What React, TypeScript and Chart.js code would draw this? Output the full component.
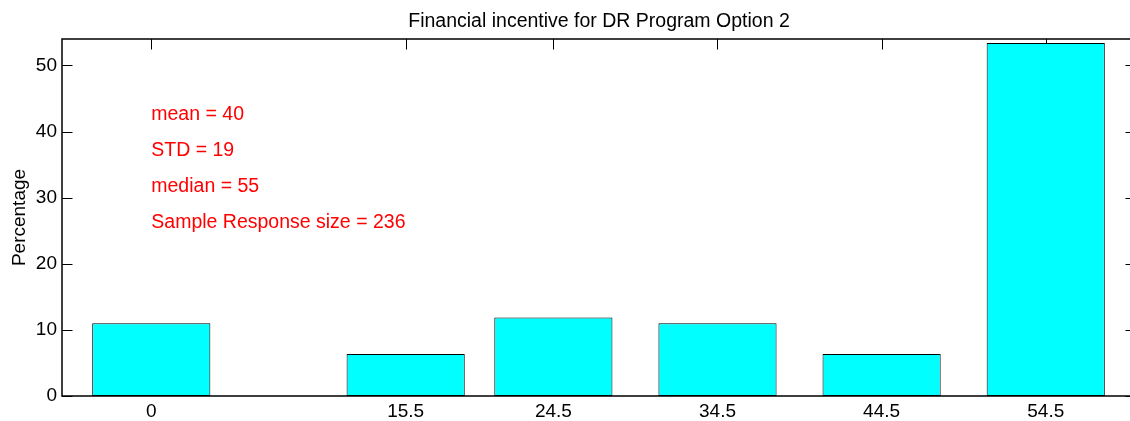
import React, { useEffect, useRef } from "react";
import { Chart, registerables } from "chart.js";

Chart.register(...registerables);

const titleText = "Financial incentive for DR Program Option 2";
const yAxisLabel = "Percentage";
const binCenters = [0, 15.5, 24.5, 34.5, 44.5, 54.5];
const percentages = [11.02, 6.36, 11.86, 11.02, 6.36, 53.39];
const yTicks = [0, 10, 20, 30, 40, 50];
const xRange = [-5.44, 60];
const yRange = [0, 54];
const statLabels = ["mean = 40", "STD = 19", "median = 55", "Sample Response size = 236"];
const statX = 0;
const statY = [43.2, 37.8, 32.4, 27];

const FONT = '"Liberation Sans", Arial, Helvetica, sans-serif';

const matlabAxes = {
  id: "matlabAxes",
  beforeDatasetsDraw(chart: any) {
    const { ctx, chartArea: a, scales } = chart;
    const xs = scales.x;
    const ys = scales.y;
    const tl = 10.5;
    ctx.save();
    ctx.strokeStyle = "#000";
    ctx.lineWidth = 1;
    ctx.beginPath();
    for (const v of binCenters) {
      const px = Math.round(xs.getPixelForValue(v)) + 0.5;
      ctx.moveTo(px, a.bottom);
      ctx.lineTo(px, a.bottom - tl);
      ctx.moveTo(px, a.top);
      ctx.lineTo(px, a.top + tl);
    }
    for (const v of yTicks) {
      const py = Math.round(ys.getPixelForValue(v)) + 0.5;
      ctx.moveTo(a.left, py);
      ctx.lineTo(a.left + tl, py);
      ctx.moveTo(a.right, py);
      ctx.lineTo(a.right - tl, py);
    }
    ctx.stroke();
    ctx.restore();
  },
  afterDraw(chart: any) {
    const { ctx, chartArea: a, scales } = chart;
    const xs = scales.x;
    const ys = scales.y;
    ctx.save();
    ctx.strokeStyle = "#000";
    ctx.lineWidth = 1.5;
    ctx.beginPath();
    ctx.rect(a.left, a.top, a.right - a.left, a.bottom - a.top);
    ctx.stroke();

    // title
    ctx.fillStyle = "#000";
    ctx.font = `19.5px ${FONT}`;
    ctx.textAlign = "center";
    ctx.textBaseline = "alphabetic";
    ctx.fillText(titleText, (a.left + a.right) / 2, 26.5);

    // y label
    ctx.font = `19px ${FONT}`;
    ctx.save();
    ctx.translate(25, (a.top + a.bottom) / 2);
    ctx.rotate(-Math.PI / 2);
    ctx.textAlign = "center";
    ctx.fillText(yAxisLabel, 0, 0);
    ctx.restore();

    // stats text
    ctx.font = `19.5px ${FONT}`;
    ctx.fillStyle = "#ff0000";
    ctx.textAlign = "left";
    const sx = xs.getPixelForValue(statX);
    statLabels.forEach((t, i) => {
      ctx.fillText(t, sx, ys.getPixelForValue(statY[i]) + 10);
    });
    ctx.restore();
  },
};

export default function App() {
  const ref = useRef<HTMLCanvasElement | null>(null);
  useEffect(() => {
    if (!ref.current) return;
    const chart = new Chart(ref.current, {
      type: "bar",
      data: {
        datasets: [
          {
            data: binCenters.map((x, i) => ({ x, y: percentages[i] })),
            backgroundColor: "#00ffff",
            borderColor: "#000000",
            borderWidth: 1,
            borderSkipped: false,
            barPercentage: 0.8,
            categoryPercentage: 1,
          } as any,
        ],
      },
      options: {
        animation: false,
        responsive: false,
        layout: { padding: { top: 39, right: 4, left: 0, bottom: 0 } },
        plugins: { legend: { display: false }, title: { display: false }, tooltip: { enabled: false } },
        scales: {
          x: {
            type: "linear",
            offset: false,
            min: xRange[0],
            max: xRange[1],
            grid: { display: false, drawTicks: false, offset: false },
            border: { display: false },
            afterBuildTicks: (s: any) => {
              s.ticks = binCenters.map((v) => ({ value: v }));
            },
            afterFit: (s: any) => {
              s.height = 25;
            },
            ticks: {
              autoSkip: false,
              maxRotation: 0,
              padding: 4,
              color: "#000",
              font: { family: FONT, size: 19 },
              callback: (v: any) => String(v),
            },
          },
          y: {
            min: yRange[0],
            max: yRange[1],
            grid: { display: false, drawTicks: false },
            border: { display: false },
            afterBuildTicks: (s: any) => {
              s.ticks = yTicks.map((v) => ({ value: v }));
            },
            afterFit: (s: any) => {
              s.width = 62;
            },
            ticks: {
              padding: 5,
              color: "#000",
              font: { family: FONT, size: 19 },
              callback: (v: any) => String(v),
            },
          },
        },
      },
      plugins: [matlabAxes],
    });
    return () => chart.destroy();
  }, []);
  return (
    <div style={{ position: "absolute", left: 0, top: 0, width: 1130, height: 421, overflow: "hidden", background: "#fff" }}>
      <canvas ref={ref} width={1140} height={421} style={{ display: "block" }} />
    </div>
  );
}
